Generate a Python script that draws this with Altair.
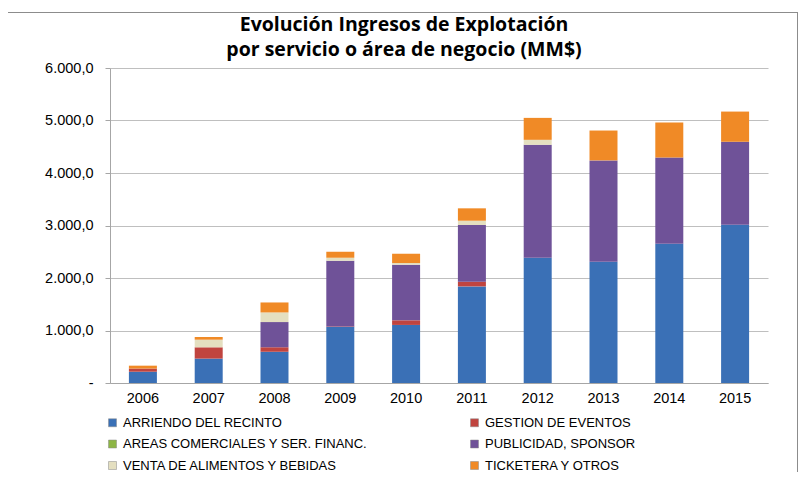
import altair as alt
import pandas as pd

years = ["2006", "2007", "2008", "2009", "2010", "2011", "2012", "2013", "2014", "2015"]
series = [
    "ARRIENDO DEL RECINTO",
    "GESTION DE EVENTOS",
    "AREAS COMERCIALES Y SER. FINANC.",
    "PUBLICIDAD, SPONSOR",
    "VENTA DE ALIMENTOS Y BEBIDAS",
    "TICKETERA Y OTROS",
]
arriendo = [215, 465, 595, 1068, 1106, 1840, 2385, 2309, 2651, 3012]
gestion = [60, 215, 86, 10, 88, 90, 0, 0, 0, 0]
areas = [0, 0, 0, 0, 0, 0, 0, 0, 0, 0]
publicidad = [0, 0, 480, 1251, 1059, 1079, 2152, 1931, 1646, 1583]
venta = [0, 145, 183, 57, 32, 82, 95, 0, 0, 0]
ticketera = [55, 51, 190, 114, 177, 236, 418, 569, 664, 575]
colors = ["#3A70B6", "#C0443F", "#8DB545", "#6F5298", "#E4DFC0", "#F08A26"]

values = [arriendo, gestion, areas, publicidad, venta, ticketera]
rows = []
for si, (name, vals) in enumerate(zip(series, values)):
    for y, v in zip(years, vals):
        rows.append({"year": y, "serie": name, "valor": v, "orden": si})
df = pd.DataFrame(rows)

label_expr = ("datum.value == 0 ? '-' : replace(replace(replace(format(datum.value, ',.1f'), ',', '#'), '.', ','), '#', '.')")

bars = alt.Chart(df).mark_bar(size=28).encode(
    x=alt.X("year:N", title=None, sort=years,
            axis=alt.Axis(labelAngle=0, ticks=False, labelPadding=8, labelFontSize=14.5,
                          labelFont="Liberation Sans", labelColor="#000000",
                          domainColor="#A6A6A6")),
    y=alt.Y("valor:Q", title=None, stack="zero",
            scale=alt.Scale(domain=[0, 6000], nice=False),
            axis=alt.Axis(values=[0, 1000, 2000, 3000, 4000, 5000, 6000], labelExpr=label_expr,
                          labelFontSize=14.5, labelFont="Liberation Sans", labelColor="#000000",
                          tickSize=5, tickColor="#A6A6A6", labelPadding=12,
                          domainColor="#A6A6A6", gridColor="#BFBFBF")),
    color=alt.Color("serie:N", sort=series,
                    scale=alt.Scale(domain=series, range=colors),
                    legend=alt.Legend(title=None, orient="none", legendX=-4, legendY=348,
                                      direction="horizontal",
                                      columns=2, columnPadding=100, rowPadding=7.5,
                                      symbolType="square", symbolSize=64,
                                      symbolStrokeColor="#888888", symbolStrokeWidth=0.5,
                                      labelFontSize=13, labelFont="Liberation Sans",
                                      labelColor="#000000", labelLimit=400)),
    order=alt.Order("orden:Q", sort="ascending"),
)

one = pd.DataFrame({"k": [0]})
frame_top = alt.Chart(one).mark_rect(color="#8C8C8C").encode(
    x=alt.value(-105), x2=alt.value(688), y=alt.value(-56), y2=alt.value(-55)
)
frame_left = alt.Chart(one).mark_rect(color="#8C8C8C").encode(
    x=alt.value(-105), x2=alt.value(-104), y=alt.value(-56), y2=alt.value(420)
)
frame_right = alt.Chart(one).mark_rect(color="#8C8C8C").encode(
    x=alt.value(687), x2=alt.value(688), y=alt.value(-56), y2=alt.value(420)
)

chart = alt.layer(frame_top, frame_left, frame_right, bars).properties(
    width=658,
    height=315,
    autosize=alt.AutoSizeParams(type="none"),
    padding={"left": 102, "top": 60, "right": 33, "bottom": 89},
    title=alt.TitleParams(
        text=["Evolución Ingresos de Explotación", "por servicio o área de negocio (MM$)"],
        fontSize=19.5, font="Open Sans", fontWeight="bold", color="#000000",
        anchor="middle", dx=-35, offset=-48, lineHeight=25,
    ),
).configure_view(stroke=None).configure_axis(gridWidth=1)

chart.save("out.html", embed_options={"renderer": "svg", "actions": False})
